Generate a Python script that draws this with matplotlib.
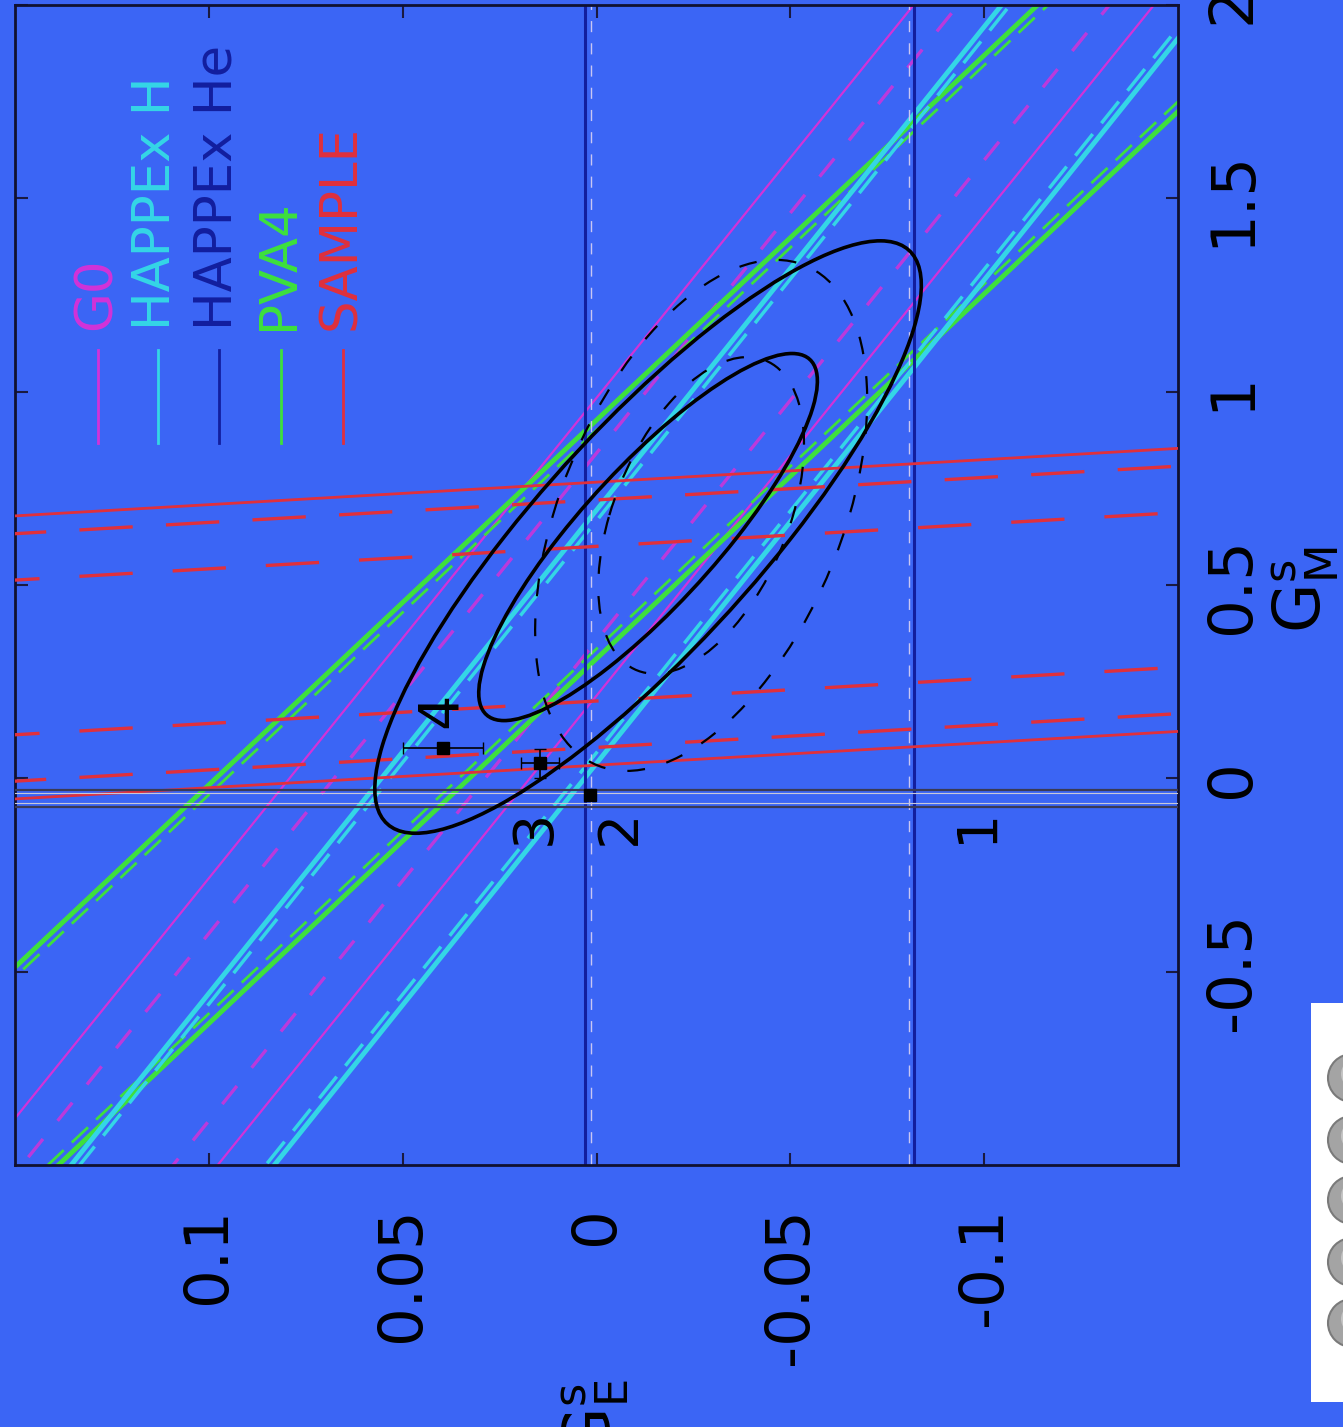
import numpy as np
import matplotlib
matplotlib.use('Agg')
import matplotlib.pyplot as plt
from matplotlib.patches import Ellipse, Rectangle

plt.rcParams['font.family'] = ['DejaVu Sans']
plt.rcParams['axes.unicode_minus'] = False

BG = '#3b65f5'

# ---- measurements: G_E^s + eta * G_M^s = centre +/- error ----
experiments = ['G0', 'HAPPEx H', 'HAPPEx He', 'PVA4', 'SAMPLE']
colors = ['#d232d8', '#34d6e6', '#121e9e', '#3ee03c', '#e0303c']

g0_eta = 0.0805
g0_centre = 0.0482
g0_err_total = 0.0310
g0_err_stat = 0.0195

happex_h_eta = 0.080
happex_h_centre = 0.0293
happex_h_err_total = 0.0262
happex_h_err_stat = 0.0240

pva4_eta = 0.106
pva4_centre = 0.0655
pva4_err_total = 0.0327
pva4_err_stat = 0.0300

# HAPPEx He constrains G_E^s alone
happex_he_centre = -0.0395
happex_he_err_total = 0.0424
happex_he_err_stat = 0.0410

# SAMPLE: G_M^s = centre + slope * G_E^s
sample_slope = -0.582
sample_centre = 0.40
sample_err_total = 0.366
sample_err_sys = 0.320
sample_err_stat = 0.200

# reference G_M^s band
gm_band = [-0.031, -0.073]

# ---- global fit (68% / 95% CL) ----
fit_centre = [-0.0133, 0.624]          # (G_E^s, G_M^s)
fit_sigma = [0.0288, 0.313]
fit_rho = -0.85
alt_centre = [-0.027, 0.68]
alt_sigma = [0.0175, 0.27]
alt_rho = -0.45
cl_scale = [np.sqrt(2.30), np.sqrt(5.99)]

# ---- theory predictions ----
theory_labels = ['1', '2', '3', '4']
theory_ge = [None, 0.0016, 0.0146, 0.0396]
theory_gm = [None, -0.044, 0.039, 0.078]
theory_ge_err = [None, 0.0, 0.0048, 0.0103]
theory_gm_err = [None, 0.0, 0.038, 0.0]
label_ge = [-0.098, -0.006, 0.0159, 0.0401]
label_gm = [-0.122, -0.127, -0.127, 0.176]

# tick labels
ge_ticks = [0.1, 0.05, 0, -0.05, -0.1]
ge_ticklabels = ['0.1', '0.05', '0', '-0.05', '-0.1']
gm_ticks = [-0.5, 0, 0.5, 1, 1.5, 2]
gm_ticklabels = ['-0.5', '0', '0.5', '1', '1.5', '2']

W, H = 1343, 1427
fig = plt.figure(figsize=(W / 100, H / 100), dpi=100, facecolor=BG)
ax = fig.add_axes([15 / W, (H - 1165) / H, 1163 / W, 1160 / H])
ax.set_facecolor(BG)
ax.set_xlim(0.15, -0.15)
ax.set_ylim(-1, 2)

gm_line = np.array([-1.5, 2.5])


def band(eta, centre, err, color, lw, dashes=None, z=2, alpha=1.0):
    for sgn in (-1, 1):
        ge = centre + sgn * err - eta * gm_line
        if dashes is None:
            ax.plot(ge, gm_line, color=color, lw=lw, solid_capstyle='butt', zorder=z,
                    alpha=alpha)
        else:
            ax.plot(ge, gm_line, color=color, lw=lw, dashes=dashes, zorder=z, alpha=alpha)


# G0
band(g0_eta, g0_centre, g0_err_total, colors[0], 1.6)
band(g0_eta, g0_centre, g0_err_stat, colors[0], 2.4, dashes=(7, 7), alpha=0.85)
# PVA4
band(pva4_eta, pva4_centre, pva4_err_total, colors[3], 3.5)
band(pva4_eta, pva4_centre, pva4_err_stat, colors[3], 2.0, dashes=(8, 4))
# HAPPEx H
band(happex_h_eta, happex_h_centre, happex_h_err_total, colors[1], 3.5)
band(happex_h_eta, happex_h_centre, happex_h_err_stat, colors[1], 2.5, dashes=(8, 4))
# HAPPEx He
for sgn in (-1, 1):
    ax.axvline(happex_he_centre + sgn * happex_he_err_total, color=colors[2], lw=2.2, zorder=2)
    ax.axvline(happex_he_centre + sgn * happex_he_err_stat, color='#c9c6f2', lw=1.0,
               dashes=(8, 8), zorder=2)

# SAMPLE
ge_line = np.array([-0.2, 0.2])
for err, style in ((sample_err_total, None), (sample_err_sys, (16, 10)),
                   (sample_err_stat, (16, 12))):
    for sgn in (-1, 1):
        gm = sample_centre + sgn * err + sample_slope * ge_line
        if style is None:
            ax.plot(ge_line, gm, color=colors[4], lw=2.0, zorder=3)
        else:
            ax.plot(ge_line, gm, color=colors[4], lw=2.4, dashes=style, zorder=3)

# reference band in G_M^s
for v in gm_band:
    ax.axhline(v, color='#3a3a55', lw=1.6, zorder=3)
ax.axhline(gm_band[0] - 0.008, color='#c8c8d8', lw=0.8, zorder=3)
ax.axhline(gm_band[1] + 0.008, color='#c8c8d8', lw=0.8, zorder=3)


def cl_ellipse(centre, sigma, rho, k, ls):
    cov = np.array([[sigma[0] ** 2, rho * sigma[0] * sigma[1]],
                    [rho * sigma[0] * sigma[1], sigma[1] ** 2]])
    vals, vecs = np.linalg.eigh(cov)
    ang = np.degrees(np.arctan2(vecs[1, 1], vecs[0, 1]))
    e = Ellipse(centre, 2 * k * np.sqrt(vals[1]), 2 * k * np.sqrt(vals[0]), angle=ang,
                fill=False, edgecolor='black', lw=2.6 if ls == '-' else 1.6,
                linestyle=ls, zorder=5)
    ax.add_patch(e)


for k in cl_scale:
    cl_ellipse(fit_centre, fit_sigma, fit_rho, k, '-')
    cl_ellipse(alt_centre, alt_sigma, alt_rho, k, (0, (8, 10)))

# theory points
for lab, ge, gm, xe, ye, lx, ly in zip(theory_labels, theory_ge, theory_gm, theory_ge_err,
                                       theory_gm_err, label_ge, label_gm):
    if ge is not None:
        ax.errorbar(ge, gm, xerr=xe if xe else None, yerr=ye if ye else None, fmt='s',
                    color='black', ms=9, elinewidth=1.2, capsize=4, zorder=6)
    ax.text(lx, ly, lab, rotation=90, ha='center', va='center', fontsize=40, zorder=6)

# legend
leg_x = [98, 158, 219, 281, 343]
for name, c, px in zip(experiments, colors, leg_x):
    fx = (px - 15) / 1163
    ax.plot([fx, fx], [(1165 - 443) / 1160, (1165 - 350) / 1160], color=c, lw=2,
            transform=ax.transAxes, zorder=7)
    ax.text(fx - 1.5 / 1163, (1165 - 330) / 1160, name, color=c, rotation=90, ha='center',
            va='bottom', fontsize=37, transform=ax.transAxes, zorder=7)

# axes styling
ax.set_xticks(ge_ticks)
ax.set_xticklabels(ge_ticklabels, rotation=90)
ax.set_yticks(gm_ticks)
ax.set_yticklabels(gm_ticklabels, rotation=90, va='center')
ax.tick_params(direction='in', length=9, width=1.5, color='#1a1a40', labelsize=44,
               top=True, right=True, left=True, bottom=True,
               labelleft=False, labelright=True, labelbottom=True)
ax.tick_params(axis='x', pad=30)
ax.tick_params(axis='y', pad=18)
for s in ax.spines.values():
    s.set_color('#101030')
    s.set_linewidth(2)

fig.text(1305 / W, 1 - 590 / H, r'$\mathrm{G}_\mathrm{M}^\mathrm{s}$', rotation=90,
         ha='center', va='center', fontsize=46)
fig.text(595 / W, 1 - 1380 / H, r'$\mathrm{G}_\mathrm{E}^\mathrm{s}$', rotation=90,
         ha='center', va='top', fontsize=46)

# side panel with buttons
fig.add_artist(Rectangle((1311 / W, (H - 1402) / H), 40 / W, 399 / H,
                         transform=fig.transFigure, facecolor='white', edgecolor='none'))
for cy in [1078, 1140, 1200, 1262, 1323]:
    fig.add_artist(Ellipse((1352 / W, 1 - cy / H), 48 / W, 48 / H, transform=fig.transFigure,
                           facecolor='#a4a4a4', edgecolor='#7a7a7a', lw=1.5))
    fig.add_artist(Ellipse((1356 / W, 1 - (cy - 4) / H), 30 / W, 30 / H,
                           transform=fig.transFigure, facecolor='#c4c4c4', edgecolor='none'))

fig.savefig('out.png', dpi=100, facecolor=BG)
